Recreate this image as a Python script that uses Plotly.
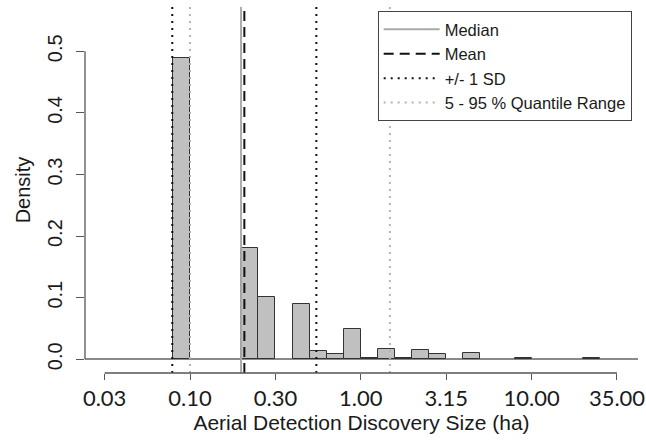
import math
import plotly.graph_objects as go

# ---- data ----
# histogram bins on log10(size in ha), bin centres and densities
bin_center_log10 = [-1.05, -0.95, -0.85, -0.75, -0.65, -0.55, -0.45, -0.35, -0.25, -0.15,
                    -0.05, 0.05, 0.15, 0.25, 0.35, 0.45, 0.55, 0.65, 0.75, 0.85,
                    0.95, 1.05, 1.15, 1.25, 1.35]
density = [0.490, 0.0, 0.0, 0.0, 0.181, 0.101, 0.0, 0.0894, 0.0135, 0.0086,
           0.049, 0.0015, 0.0162, 0.0015, 0.0146, 0.0086, 0.0, 0.0109, 0.0, 0.0,
           0.002, 0.0, 0.0, 0.0, 0.002]
bin_width_log10 = 0.1

# summary statistics (ha)
median_ha = 0.199
mean_ha = 0.208
sd_band_ha = [0.0787, 0.549]
quantile_ha = [0.100, 1.48]

# axis ticks
x_tick_exponents = [-1.5, -1.0, -0.5, 0.0, 0.5, 1.0, 1.5]
x_tick_labels = ["0.03", "0.10", "0.30", "1.00", "3.15", "10.00", "35.00"]
y_tick_values = [0.0, 0.1, 0.2, 0.3, 0.4, 0.5]
y_tick_labels = ["0.0", "0.1", "0.2", "0.3", "0.4", "0.5"]

Y_RANGE = [-0.0223, 0.572]
X_RANGE = [-1.615, 1.623]


def lg(v):
    return math.log10(v)


def vlines(values):
    xs, ys = [], []
    for v in values:
        xs += [lg(v), lg(v), None]
        ys += [Y_RANGE[0], Y_RANGE[1], None]
    return xs, ys


# empty bins are not drawn (only the baseline shows there)
bx = [c for c, d in zip(bin_center_log10, density) if d > 0]
by = [d for d in density if d > 0]

fig = go.Figure()

fig.add_trace(go.Bar(
    x=bx, y=by, width=bin_width_log10,
    marker=dict(color="#c0c0c0", line=dict(color="#333333", width=1)),
    showlegend=False, hoverinfo="skip",
))

specs = [
    ("Median", [median_ha], dict(color="#aaaaaa", width=2, dash="solid")),
    ("Mean", [mean_ha], dict(color="#111111", width=2, dash="10px,6px")),
    ("+/- 1 SD", sd_band_ha, dict(color="#111111", width=2, dash="2px,5px")),
    ("5 - 95 % Quantile Range", quantile_ha, dict(color="#b4b4b4", width=2, dash="2px,5px")),
]
for name, vals, line in specs:
    xs, ys = vlines(vals)
    fig.add_trace(go.Scatter(x=xs, y=ys, mode="lines", name=name, line=line,
                             hoverinfo="skip"))

# R-style axis lines spanning only the tick range
fig.add_shape(type="line", xref="paper", yref="y", x0=0, x1=0,
              y0=y_tick_values[0], y1=y_tick_values[-1],
              line=dict(color="#555555", width=1.3))
fig.add_shape(type="line", xref="x", yref="paper", y0=0, y1=0,
              x0=x_tick_exponents[0], x1=x_tick_exponents[-1],
              line=dict(color="#555555", width=1.3))

fig.update_layout(
    width=646, height=441,
    margin=dict(l=85, r=8, t=7, b=68),
    paper_bgcolor="white", plot_bgcolor="white",
    font=dict(family="Liberation Sans, Arial", color="#1a1a1a"),
    bargap=0,
    xaxis=dict(
        range=X_RANGE, showgrid=False, zeroline=False, showline=False,
        tickmode="array", tickvals=x_tick_exponents, ticktext=x_tick_labels,
        ticks="outside", ticklen=6, tickwidth=1.3, tickcolor="#555555",
        tickfont=dict(family="Lato", size=22, color="#1a1a1a"),
        title=dict(text="Aerial Detection Discovery Size (ha)",
                   font=dict(family="Liberation Sans, Arial", size=21), standoff=4),
        automargin=False,
    ),
    yaxis=dict(
        range=Y_RANGE, showgrid=False, showline=False,
        zeroline=True, zerolinecolor="#8a8a8a", zerolinewidth=1.5,
        tickmode="array", tickvals=y_tick_values, ticktext=y_tick_labels,
        ticks="outside", ticklen=8, tickwidth=1.3, tickcolor="#555555",
        tickangle=-90, ticklabelstandoff=6,
        tickfont=dict(family="Liberation Sans, Arial", size=20, color="#1a1a1a"),
        title=dict(text="Density", font=dict(family="Liberation Sans, Arial", size=20),
                   standoff=8),
        automargin=False,
    ),
    legend=dict(
        x=0.9886, xanchor="right", y=0.989, yanchor="top",
        bgcolor="white", bordercolor="#444444", borderwidth=1,
        font=dict(family="Liberation Sans, Arial", size=16.5, color="#1a1a1a"),
        itemwidth=56, tracegroupgap=0,
    ),
)

fig.write_html("out.html")
